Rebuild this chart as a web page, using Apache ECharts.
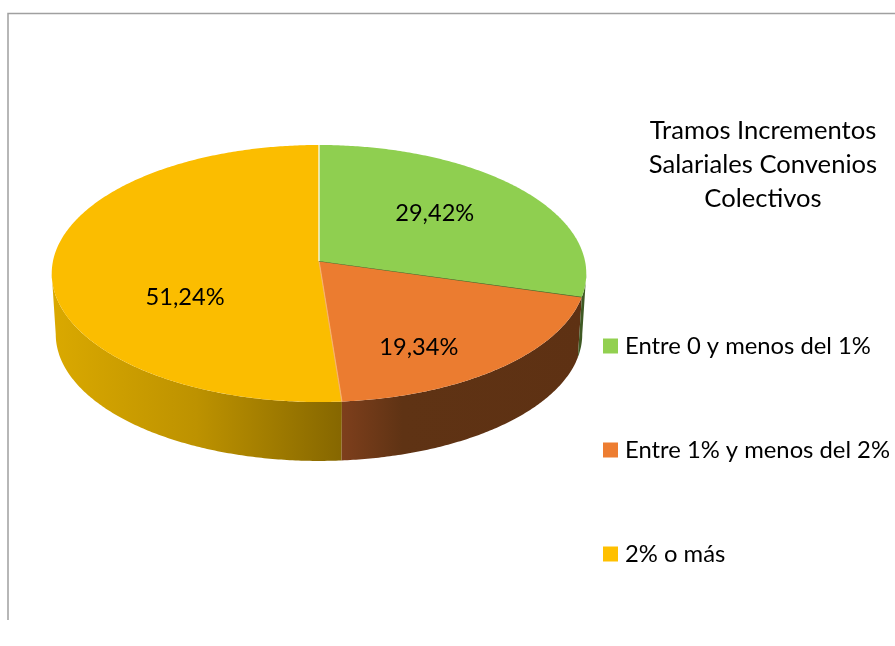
<!DOCTYPE html>
<html>
<head>
<meta charset="utf-8">
<style>html,body{margin:0;padding:0;background:#fff}#c{width:895px;height:646px}</style>
<script src="https://cdn.jsdelivr.net/npm/echarts@6/dist/echarts.min.js"></script>
</head>
<body>
<div id="c"></div>
<script>
var categories = ['Entre 0 y menos del 1%', 'Entre 1% y menos del 2%', '2% o más'];
var values = [29.42, 19.34, 51.24];
var valueLabels = ['29,42%', '19,34%', '51,24%'];
var titleText = 'Tramos Incrementos\nSalariales Convenios\nColectivos';
var topColors = ['#92D050', '#ED7D31', '#FFC000'];
var faceColors = ['#8FCF50', '#EB7C30', '#FBBD00'];
var wallStops = [
  [[0, '#3F5A24'], [1, '#3F5A24']],
  [[0, '#7E3F1C'], [0.25, '#5F3314'], [1, '#5E3113']],
  [[0, '#DAA900'], [0.5, '#BD9200'], [1, '#866700']]
];
var wallRange = [[341, 587], [341, 587], [52, 341]];
var separatorColors = ['#FFFFFF', '#4F6E2E', '#F6B26B'];
var labelNudge = [[0, -1], [8, -1], [11, 21]];

// perspective projection of the pie disc
var CX = 319, APEX_Y = 261, R = 266, A = 127.3, K = 0.0973;
var WALL_CY = 322, WALL_R = 262, WALL_A = 125.4;
var total = values.reduce(function (a, b) { return a + b; }, 0);
function rad(v) { return v / total * Math.PI * 2; }
function proj(t, cy, r, a) {
  var u = Math.sin(t), v = -Math.cos(t), d = 1 - K * v;
  return [CX + r * u / d, cy + a * v / d];
}
function topPt(t) { return proj(t, APEX_Y, R, A); }
function botPt(t) { return proj(t, WALL_CY, WALL_R, WALL_A); }
var VIS_A = Math.acos(-K), VIS_B = 2 * Math.PI - VIS_A;

function sliceRender(idx) {
  return function () {
    var start = 0;
    for (var i = 0; i < idx; i++) start += rad(values[i]);
    var end = start + rad(values[idx]);
    var children = [];
    // wall
    var a = Math.max(start, VIS_A), b = Math.min(end, VIS_B);
    if (b > a) {
      var n = Math.ceil((b - a) / 0.01), pts = [], j;
      for (j = 0; j <= n; j++) pts.push(topPt(a + (b - a) * j / n));
      for (j = n; j >= 0; j--) pts.push(botPt(a + (b - a) * j / n));
      var g = wallRange[idx];
      children.push({
        type: 'polygon', shape: { points: pts },
        style: { fill: { type: 'linear', x: g[0], y: 0, x2: g[1], y2: 0, global: true,
          colorStops: wallStops[idx].map(function (s) { return { offset: s[0], color: s[1] }; }) } }
      });
    }
    // top face
    var m = Math.ceil((end - start) / 0.01), face = [[CX, APEX_Y]];
    for (var k = 0; k <= m; k++) face.push(topPt(start + (end - start) * k / m));
    children.push({ type: 'polygon', shape: { points: face }, style: { fill: faceColors[idx] } });
    // separator along the slice's start edge
    var e = topPt(start);
    children.push({ type: 'line', shape: { x1: CX, y1: APEX_Y, x2: e[0], y2: e[1] },
      style: { stroke: separatorColors[idx], lineWidth: 1.2 }, z2: 5 });
    // label
    var mid = (start + end) / 2;
    children.push({
      type: 'text', z2: 10,
      style: {
        x: CX + 145 * Math.sin(mid) + labelNudge[idx][0],
        y: 273 - 97 * Math.cos(mid) + labelNudge[idx][1],
        text: valueLabels[idx], align: 'center', verticalAlign: 'middle',
        fill: '#000', font: '23.6px Lato'
      }
    });
    return { type: 'group', children: children };
  };
}

var series = [2, 1, 0].map(function (i) {
  return {
    type: 'custom', name: categories[i], silent: true, animation: false,
    coordinateSystem: 'none',
    itemStyle: { color: topColors[i] },
    data: [values[i]],
    renderItem: sliceRender(i),
    z: i === 0 ? 3 : 2
  };
});

var chart = echarts.init(document.getElementById('c'), null, { renderer: 'canvas' });
chart.setOption({
  animation: false,
  backgroundColor: '#FFFFFF',
  title: {
    text: titleText, left: 758, top: 109, textAlign: 'center',
    textStyle: { fontFamily: 'Lato', fontSize: 25.6, fontWeight: 'normal', lineHeight: 34, color: '#000' }
  },
  legend: {
    data: categories, orient: 'vertical', left: 603, top: 334, padding: 0,
    itemWidth: 15, itemHeight: 15, itemGap: 80, icon: 'rect',
    selectedMode: false,
    textStyle: { fontFamily: 'Lato', fontSize: 23.8, color: '#000', height: 24, lineHeight: 24, padding: [0, 0, 0, 2] }
  },
  graphic: [{
    type: 'polyline', silent: true,
    shape: { points: [[8, 620], [8, 13.5], [895, 13.5]] },
    style: { stroke: '#A0A0A0', lineWidth: 1.5, fill: null }
  }],
  series: series
});
</script>
</body>
</html>
